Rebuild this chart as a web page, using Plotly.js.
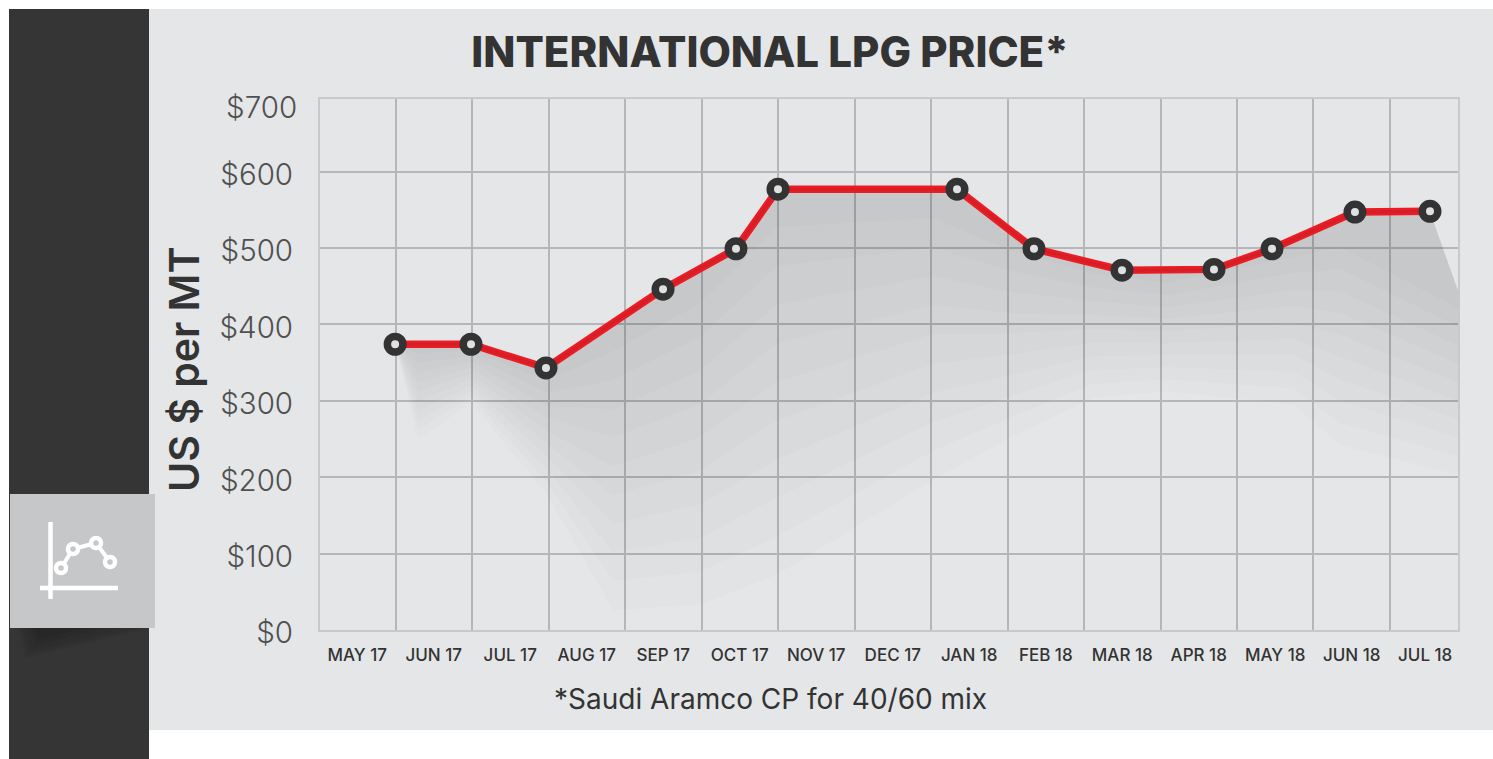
<!DOCTYPE html>
<html>
<head>
<meta charset="utf-8">
<script src="https://cdn.plot.ly/plotly-3.0.1.min.js"></script>
<style>html,body{margin:0;padding:0;background:#fff;overflow:hidden}#chart{width:1493px;height:759px}</style>
</head>
<body>
<div id="chart"></div>
<script>
// Month labels; each month owns one band on the x axis
const months = ['MAY 17','JUN 17','JUL 17','AUG 17','SEP 17','OCT 17','NOV 17','DEC 17','JAN 18','FEB 18','MAR 18','APR 18','MAY 18','JUN 18','JUL 18'];
const monthCentres = [0.5,1.5,2.5,3.5,4.5,5.5,6.5,7.5,8.5,9.5,10.5,11.5,12.5,13.5,14.46];
const monthEdges = [1,2,3,4,5,6,7,8,9,10,11,12,13,14];

// Price series
const priceX = [0.995,1.987,2.967,4.497,5.451,6.00,8.34,9.346,10.497,11.699,12.458,13.542,14.523];
const priceY = [374,374,343,446,499,577,577,499,471,472,499,547,548];

const yTicks = [0,100,200,300,400,500,600];
const yLabels = ['$0','$100','$200','$300','$400','$500','$600'];

// Soft shadow under the line: contour positions, outermost first
const shadowEdgeX = [0.995,1.294,1.987,2.98,3.843,4.98,5.987,8.026,8.993,10.118,11.085,12.732,13.346,14.889];
const shadowA = [374,249,297,177,26,33,72,196,249,304,312,295,242,203];
const shadowB = [374,262,305,193,64,76,122,234,276,322,328,316,271,227];
const shadowC = [374,274,312,210,101,120,173,272,304,340,344,338,300,251];
const shadowD = [374,287,320,226,139,164,223,310,332,358,360,360,328,276];
const shadowE = [374,299,328,243,176,208,274,348,360,376,375,381,357,300];
const shadowF = [374,312,335,260,214,252,325,387,388,394,391,402,386,324];
const shadowG = [374,324,343,277,252,295,375,425,415,412,407,424,415,348];
const shadowH = [374,337,351,293,289,339,426,463,443,430,422,445,443,372];
const shadowI = [374,349,359,310,327,383,476,501,471,448,438,467,472,397];
const shadowJ = [374,362,366,326,365,427,527,539,498,466,454,488,501,421];
const shadowContours = [shadowA,shadowB,shadowC,shadowD,shadowE,shadowF,shadowG,shadowH,shadowI,shadowJ];
const shadowCornerX = 14.889, shadowCornerY = 445;

const W = 1493, H = 759, L = 320, R = 1458, T = 99, B = 630;
const px = v => (v - L) / (R - L);
const py = v => (B - v) / (B - T);
const rect = (x0,y0,x1,y1,c) => ({type:'rect',xref:'paper',yref:'paper',x0:px(x0),x1:px(x1),y0:py(y0),y1:py(y1),fillcolor:c,line:{width:0},layer:'below'});
const seg = (x0,y0,x1,y1,w) => ({type:'line',xref:'paper',yref:'paper',x0:px(x0),x1:px(x1),y0:py(y0),y1:py(y1),line:{color:'#ffffff',width:w},layer:'below'});
const ring = (x,y) => ({type:'circle',xref:'paper',yref:'paper',x0:px(x-5),x1:px(x+5),y0:py(y-5),y1:py(y+5),fillcolor:'#c6c7c9',line:{color:'#ffffff',width:4.5},layer:'below'});
const poly = (pts,c) => ({type:'path',xref:'paper',yref:'paper',path:pts.map((p,i)=>(i?'L':'M')+px(p[0])+' '+py(p[1])).join(' ')+' Z',fillcolor:c,line:{width:0},layer:'below'});

const shapes = [
  rect(9,9,1493,730,'#e5e6e8'),
  rect(9,9,149,759,'#353535'),
  poly([[19,628],[150,628],[25,658]],'rgba(20,20,20,0.06)'),
  poly([[22,628],[140,628],[28,654]],'rgba(20,20,20,0.07)'),
  poly([[25,628],[125,628],[32,650]],'rgba(20,20,20,0.08)'),
  poly([[28,628],[105,628],[36,645]],'rgba(20,20,20,0.09)'),
  poly([[32,628],[85,628],[40,639]],'rgba(20,20,20,0.10)'),
  rect(10,494,155,628,'#c6c7c9'),
  seg(50.5,522,50.5,599,4.5),
  seg(40,588,118,588,4.5),
  seg(61,568,73,549,4),
  seg(73,549,96,543,4),
  seg(96,543,110,562,4),
  ring(61,568), ring(73,549), ring(96,543), ring(110,562)
];

const traces = shadowContours.map(c => ({
  x: priceX.concat([shadowCornerX], shadowEdgeX.slice().reverse()),
  y: priceY.concat([shadowCornerY], c.slice().reverse()),
  type:'scatter', mode:'lines', fill:'toself', opacity:0.0125,
  fillcolor:'#000000', line:{width:0}, hoverinfo:'skip', showlegend:false
}));
traces.push({x:priceX,y:priceY,type:'scatter',mode:'lines',line:{color:'#ed1c24',width:7.5},showlegend:false,hoverinfo:'skip'});
traces.push({x:priceX,y:priceY,type:'scatter',mode:'lines',line:{color:'#d41f27',width:3},showlegend:false,hoverinfo:'skip'});
traces.push({x:priceX,y:priceY,type:'scatter',mode:'markers',
  marker:{size:15.5,color:'#dfe0e1',line:{color:'#333333',width:7.5}},showlegend:false,
  hovertemplate:'$%{y}<extra></extra>'});

const lightFont = {family:'Inter, sans-serif',size:29.5,color:'#505050',weight:300};

const layout = {
  width:W, height:H,
  margin:{l:L,r:W-R,t:T,b:H-B,pad:0},
  paper_bgcolor:'#ffffff', plot_bgcolor:'rgba(0,0,0,0)',
  showlegend:false, shapes,
  title:{text:'INTERNATIONAL LPG PRICE*',x:770/W,xanchor:'center',y:1-52/H,yanchor:'middle',
    font:{family:'Inter, sans-serif',size:42,color:'#333333',weight:800}},
  xaxis:{range:[0.013,14.889],tickmode:'array',tickvals:monthCentres,ticktext:months,
    showgrid:false,zeroline:false,ticks:'',ticklabelstandoff:9,
    tickfont:{family:'Inter, sans-serif',size:17,color:'#333333',weight:500},
    minor:{tickmode:'array',tickvals:monthEdges,showgrid:true,gridcolor:'#b5b6b8',gridwidth:2,ticks:''},
    showline:true,mirror:true,linecolor:'#c8c9cb',linewidth:2,fixedrange:true},
  yaxis:{range:[0,695],tickmode:'array',tickvals:yTicks,ticktext:yLabels,
    showgrid:true,gridcolor:'#b5b6b8',gridwidth:2,zeroline:false,ticks:'',
    ticklabelstandoff:19,ticklabelshift:3,tickfont:lightFont,
    showline:true,mirror:true,linecolor:'#c8c9cb',linewidth:2,fixedrange:true},
  annotations:[
    {text:'US $ per MT',xref:'paper',yref:'paper',x:px(184),y:py(370),xanchor:'center',yanchor:'middle',textangle:-90,showarrow:false,
      font:{family:'Inter, sans-serif',size:41,color:'#333333',weight:600}},
    {text:'$700',xref:'paper',yref:'y',x:px(299),y:684.5,xanchor:'right',yanchor:'middle',showarrow:false,font:lightFont},
    {text:'*Saudi Aramco CP for 40/60 mix',xref:'paper',yref:'paper',x:px(770),y:py(699),xanchor:'center',yanchor:'middle',showarrow:false,
      font:{family:'Inter, sans-serif',size:28,color:'#333333',weight:400}}
  ]
};
Plotly.newPlot('chart',traces,layout,{displayModeBar:false,responsive:false});
</script>
</body>
</html>
